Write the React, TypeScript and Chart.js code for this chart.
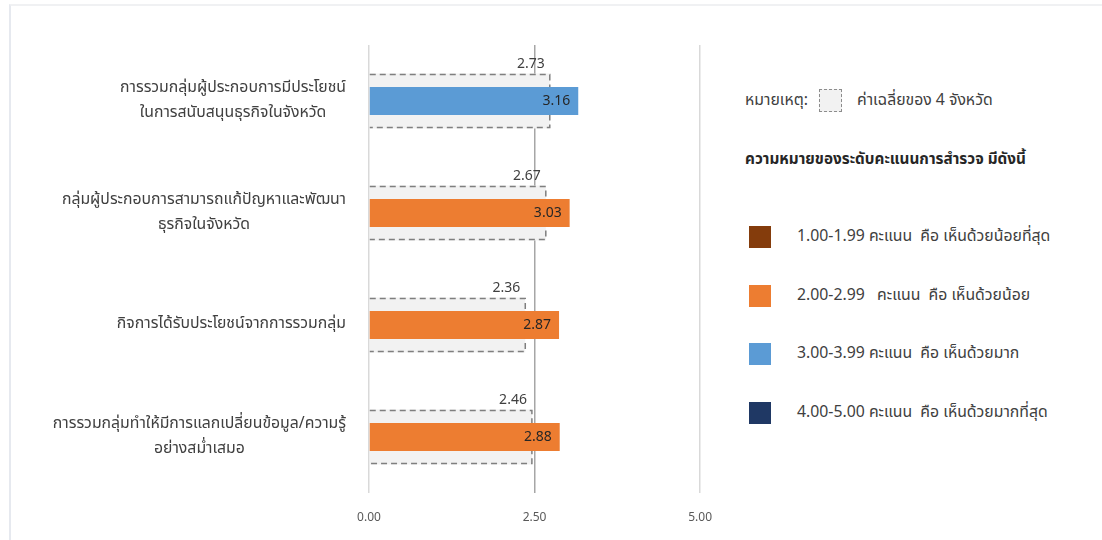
import React, { useEffect, useRef } from "react";
import { Chart, registerables } from "chart.js";

Chart.register(...registerables);

const categories: string[][] = [
  ["การรวมกลุ่มผู้ประกอบการมีประโยชน์", "ในการสนับสนุนธุรกิจในจังหวัด"],
  ["กลุ่มผู้ประกอบการสามารถแก้ปัญหาและพัฒนา", "ธุรกิจในจังหวัด"],
  ["กิจการได้รับประโยชน์จากการรวมกลุ่ม"],
  ["การรวมกลุ่มทำให้มีการแลกเปลี่ยนข้อมูล/ความรู้", "อย่างสม่ำเสมอ"],
];
const provinceScores = [3.16, 3.03, 2.87, 2.88];
const averageScores = [2.73, 2.67, 2.36, 2.46];
const xTicks = [0, 2.5, 5];

const levelColors = ["#843C0C", "#ED7D31", "#5B9BD5", "#1F3864"];
const levelLabels = [
  "1.00-1.99 คะแนน  คือ เห็นด้วยน้อยที่สุด",
  "2.00-2.99   คะแนน  คือ เห็นด้วยน้อย",
  "3.00-3.99 คะแนน  คือ เห็นด้วยมาก",
  "4.00-5.00 คะแนน  คือ เห็นด้วยมากที่สุด",
];
// level index (into levelColors) used for each bar, as coloured in the source
const barLevels = [2, 1, 1, 1];

const FONT = "'Noto Sans Thai', 'Noto Sans', Lato, sans-serif";

const dashPlugin = {
  id: "dashBorder",
  afterDatasetDraw(chart: any, args: any) {
    if (args.index !== 1) return;
    const ctx = chart.ctx;
    ctx.save();
    ctx.strokeStyle = "#7f7f7f";
    ctx.lineWidth = 1.5;
    ctx.setLineDash([6, 4]);
    args.meta.data.forEach((el: any) => {
      const { x, y, base, height } = el.getProps(["x", "y", "base", "height"], true);
      const top = Math.round(y - height / 2) + 0.5;
      const bot = Math.round(y + height / 2) - 0.5;
      ctx.beginPath();
      ctx.moveTo(base, top);
      ctx.lineTo(x, top);
      ctx.lineTo(x, bot);
      ctx.lineTo(base, bot);
      ctx.stroke();
    });
    ctx.restore();
  },
};

const labelPlugin = {
  id: "valueLabels",
  afterDatasetsDraw(chart: any) {
    const ctx = chart.ctx;
    ctx.save();
    ctx.font = `14px ${FONT}`;
    ctx.textAlign = "right";
    const avgMeta = chart.getDatasetMeta(1);
    avgMeta.data.forEach((el: any, i: number) => {
      const { x, y, height } = el.getProps(["x", "y", "height"], true);
      ctx.fillStyle = "#404040";
      ctx.textBaseline = "bottom";
      ctx.fillText(averageScores[i].toFixed(2), x - 5, y - height / 2 - 1);
    });
    const mainMeta = chart.getDatasetMeta(0);
    mainMeta.data.forEach((el: any, i: number) => {
      const { x, y } = el.getProps(["x", "y"], true);
      ctx.fillStyle = "#262626";
      ctx.textBaseline = "middle";
      ctx.fillText(provinceScores[i].toFixed(2), x - 8, y + 1);
    });
    // category labels: block right-aligned, lines centered
    const yScale = chart.scales.y;
    ctx.font = `15.8px ${FONT}`;
    ctx.fillStyle = "#404040";
    ctx.textAlign = "center";
    ctx.textBaseline = "middle";
    const lineH = 25;
    const right = yScale.right - 23;
    categories.forEach((lines, i) => {
      const cy = yScale.getPixelForValue(i);
      const w = Math.max(...lines.map((l) => ctx.measureText(l).width));
      const cx = right - w / 2;
      lines.forEach((l, j) => {
        const ly = cy + (j - (lines.length - 1) / 2) * lineH;
        ctx.fillText(l, cx, ly);
      });
    });
    ctx.restore();
  },
};

export default function App() {
  const ref = useRef<HTMLCanvasElement | null>(null);
  useEffect(() => {
    if (!ref.current) return;
    const chart = new Chart(ref.current, {
      type: "bar",
      data: {
        labels: categories.map((c) => c.join(" ")),
        datasets: [
          {
            label: "คะแนน",
            data: provinceScores,
            backgroundColor: barLevels.map((l) => levelColors[l]),
            barPercentage: 0.25,
            categoryPercentage: 1,
            grouped: false,
            order: 1,
          },
          {
            label: "ค่าเฉลี่ยของ 4 จังหวัด",
            data: averageScores,
            backgroundColor: "#f2f2f2",
            borderWidth: 0,
            barPercentage: 0.49,
            categoryPercentage: 1,
            grouped: false,
            order: 2,
          },
        ],
      },
      options: {
        indexAxis: "y",
        animation: false,
        responsive: false,
        maintainAspectRatio: false,
        layout: { padding: { top: 45, right: 21, left: 0, bottom: 0 } },
        plugins: { legend: { display: false }, tooltip: { enabled: false } },
        scales: {
          x: {
            min: 0,
            max: 5,
            afterBuildTicks: (s: any) => {
              s.ticks = xTicks.map((v) => ({ value: v }));
            },
            afterFit: (s: any) => {
              s.height = 47;
            },
            grid: {
              drawTicks: false,
              color: (c: any) => (c.tick && c.tick.value === 2.5 ? "#a6a6a6" : "#d9d9d9"),
              lineWidth: 1.5,
            },
            border: { display: false },
            ticks: {
              padding: 18,
              color: "#595959",
              font: { size: 12, family: FONT },
              callback: (v: any) => Number(v).toFixed(2),
            },
          },
          y: {
            afterFit: (s: any) => {
              s.width = 369;
            },
            grid: { display: false },
            border: { display: false },
            ticks: { callback: () => "" },
          },
        },
      },
      plugins: [dashPlugin, labelPlugin],
    });
    return () => chart.destroy();
  }, []);

  const txt: React.CSSProperties = {
    position: "absolute",
    fontFamily: FONT,
    fontSize: 15.8,
    color: "#404040",
    whiteSpace: "pre",
    lineHeight: "22px",
  };

  return (
    <div style={{ position: "fixed", left: 0, top: 0, width: 1102, height: 540, background: "#fff", overflow: "hidden" }}>
      <div
        style={{
          position: "absolute",
          left: 9,
          top: 4,
          width: 1100,
          height: 540,
          borderLeft: "2px solid #e6e9ef",
          borderTop: "2px solid #f0f1f3",
        }}
      />
      <canvas ref={ref} width={730} height={540} style={{ position: "absolute", left: 0, top: 0, width: 730, height: 540 }} />
      <div style={{ ...txt, left: 745, top: 89 }}>หมายเหตุ:</div>
      <div
        style={{
          position: "absolute",
          left: 819,
          top: 89,
          width: 21,
          height: 21,
          background: "#f2f2f2",
          border: "1.5px dashed #8c8c8c",
        }}
      />
      <div style={{ ...txt, left: 857, top: 89 }}>ค่าเฉลี่ยของ 4 จังหวัด</div>
      <div style={{ ...txt, left: 745, top: 149, fontSize: 15.3, fontWeight: 700, color: "#262626" }}>
        ความหมายของระดับคะแนนการสำรวจ มีดังนี้
      </div>
      {levelLabels.map((l, i) => (
        <React.Fragment key={i}>
          <div
            style={{
              position: "absolute",
              left: 749,
              top: 226 + i * 58.7,
              width: 22,
              height: 22,
              background: levelColors[i],
            }}
          />
          <div style={{ ...txt, left: 797, top: 225 + i * 58.7 }}>{l}</div>
        </React.Fragment>
      ))}
    </div>
  );
}
